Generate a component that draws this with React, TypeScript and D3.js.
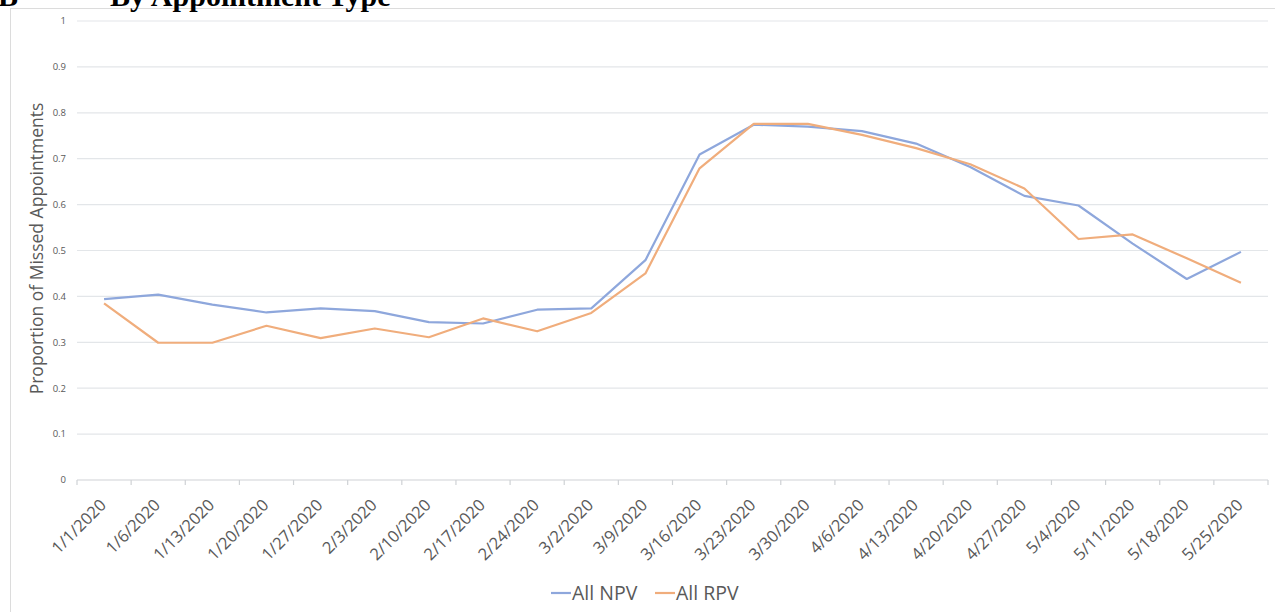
import React from 'react'
import * as d3 from "d3";

const weeks = ["1/1/2020", "1/6/2020", "1/13/2020", "1/20/2020", "1/27/2020", "2/3/2020", "2/10/2020", "2/17/2020", "2/24/2020", "3/2/2020", "3/9/2020", "3/16/2020", "3/23/2020", "3/30/2020", "4/6/2020", "4/13/2020", "4/20/2020", "4/27/2020", "5/4/2020", "5/11/2020", "5/18/2020", "5/25/2020"]
const allNPV = [0.394, 0.404, 0.382, 0.365, 0.374, 0.368, 0.344, 0.341, 0.371, 0.374, 0.479, 0.709, 0.774, 0.770, 0.760, 0.733, 0.682, 0.619, 0.598, 0.515, 0.438, 0.497]
const allRPV = [0.385, 0.299, 0.299, 0.336, 0.309, 0.330, 0.311, 0.352, 0.324, 0.364, 0.450, 0.679, 0.776, 0.776, 0.752, 0.723, 0.688, 0.635, 0.525, 0.535, 0.483, 0.430]
const yTicks = [0, 0.1, 0.2, 0.3, 0.4, 0.5, 0.6, 0.7, 0.8, 0.9, 1]

const series = [
  { name: "All NPV", values: allNPV, color: "#8ea7dc" },
  { name: "All RPV", values: allRPV, color: "#f0ad7c" },
]

const font = "'Open Sans', 'Noto Sans', sans-serif"

export default function App() {
  const width = 1275
  const height = 612
  const margin = { top: 21, right: 7, bottom: 132, left: 77 }
  const boundedWidth = width - margin.left - margin.right
  const boundedHeight = height - margin.top - margin.bottom

  const xScale = d3.scaleBand<string>()
    .domain(weeks)
    .range([0, boundedWidth])

  const yScale = d3.scaleLinear()
    .domain([0, 1])
    .range([boundedHeight, 0])

  const cx = (w: string) => (xScale(w) as number) + xScale.bandwidth() / 2

  const lineGenerator = d3.line<number>()
    .x((_, i) => cx(weeks[i]))
    .y(d => yScale(d))

  return (
    <svg width={width} height={height} style={{ position: "absolute", left: 0, top: 0 }}>
      <rect x={0} y={0} width={width} height={height} fill="#fff" />
      <rect x={10.5} y={8.5} width={width + 10} height={height + 10} fill="none" stroke="#dcdcdc" />
      <text x={-2} y={6} fontFamily="'Liberation Serif', serif" fontWeight="bold" fontSize={30}>B</text>
      <text x={110} y={6} fontFamily="'Liberation Serif', serif" fontWeight="bold" fontSize={30}>By Appointment Type</text>
      <g transform={`translate(${margin.left}, ${margin.top})`}>
        {yTicks.map(t => (
          <g key={t}>
            {t > 0 && <line x1={0} x2={boundedWidth} y1={yScale(t)} y2={yScale(t)} stroke="#e3e6e9" strokeWidth={1.2} />}
            <text x={-11} y={yScale(t)} dy="0.35em" textAnchor="end" fontFamily={font} fontSize={9.5} fill="#595959">{t}</text>
          </g>
        ))}
        <line x1={0} x2={boundedWidth} y1={boundedHeight} y2={boundedHeight} stroke="#cfd2d5" strokeWidth={1.2} />
        {weeks.concat([""]).map((w, i) => {
          const x = i * xScale.step()
          return <line key={i} x1={x} x2={x} y1={boundedHeight} y2={boundedHeight + 5} stroke="#cfd2d5" strokeWidth={1.2} />
        })}
        {weeks.map(w => (
          <text key={w} transform={`translate(${cx(w) - 1}, ${boundedHeight + 22}) rotate(-45)`} textAnchor="end" dy="0.35em"
            fontFamily={font} fontSize={16.5} fill="#595959">{w}</text>
        ))}
        {series.map(s => (
          <path key={s.name} d={lineGenerator(s.values) as string} fill="none" stroke={s.color} strokeWidth={2.2} strokeLinejoin="round" />
        ))}
      </g>
      <text transform={`translate(43, ${margin.top + boundedHeight / 2 - 2}) rotate(-90)`} textAnchor="middle"
        fontFamily={font} fontSize={17.5} fill="#595959">Proportion of Missed Appointments</text>
      <g transform="translate(551, 593)">
        {series.map((s, i) => (
          <g key={s.name} transform={`translate(${i * 104}, 0)`}>
            <line x1={0} x2={20} y1={0} y2={0} stroke={s.color} strokeWidth={2.2} />
            <text x={21} y={0} dy="0.35em" fontFamily={font} fontSize={19.5} fill="#595959">{s.name}</text>
          </g>
        ))}
      </g>
    </svg>
  )
}
